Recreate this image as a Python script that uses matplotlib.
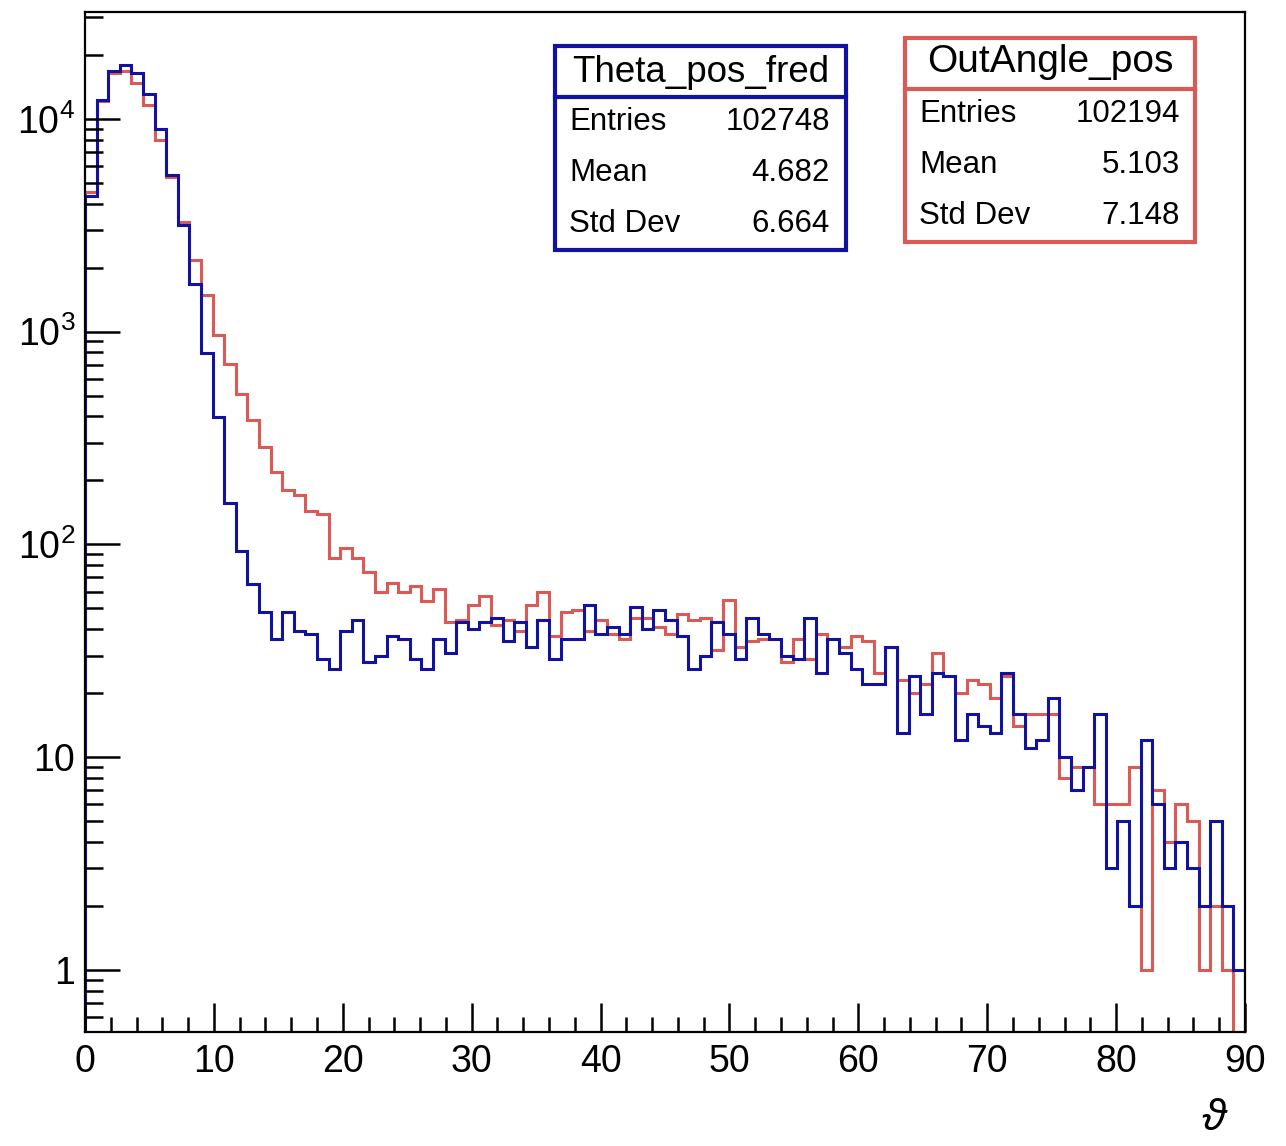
import numpy as np
import matplotlib
matplotlib.use("Agg")
import matplotlib.pyplot as plt
from matplotlib.patches import Rectangle
from matplotlib.lines import Line2D
from matplotlib.ticker import FixedLocator, FixedFormatter, LogLocator, NullFormatter, MultipleLocator

plt.rcParams['font.family'] = ['Liberation Sans', 'DejaVu Sans']
plt.rcParams['mathtext.fontset'] = 'custom'
plt.rcParams['mathtext.rm'] = 'Liberation Sans'
plt.rcParams['mathtext.it'] = 'Liberation Sans:italic'
plt.rcParams['mathtext.fallback'] = 'cm'

# ---------------- data ----------------
x_min, x_max, n_bins = 0.0, 90.0, 100

theta_pos_fred = [
    4360, 12280, 16870, 17950, 16400, 13100, 8980, 5450, 3175, 1670,
    792, 399, 157, 93, 65, 48, 36, 48, 39, 38,
    29, 26, 39, 44, 28, 30, 37, 36, 29, 26,
    36, 31, 43, 40, 43, 45, 35, 43, 33, 44,
    29, 36, 36, 52, 38, 41, 38, 51, 40, 49,
    44, 37, 26, 30, 43, 38, 29, 45, 38, 36,
    30, 29, 45, 25, 36, 31, 26, 22, 22, 33,
    13, 24, 16, 25, 24, 12, 16, 14, 13, 25,
    16, 11, 12, 19, 10, 7, 9, 16, 3, 5,
    2, 12, 6, 3, 4, 3, 2, 5, 2, 1,
]

out_angle_pos = [
    4550, 12200, 16400, 16870, 14720, 11640, 7960, 5320, 3270, 2170,
    1485, 960, 705, 510, 383, 286, 220, 180, 171, 144,
    139, 86, 96, 86, 74, 60, 66, 60, 64, 54,
    62, 43, 44, 52, 57, 42, 44, 39, 52, 60,
    37, 48, 49, 39, 44, 38, 36, 45, 45, 41,
    38, 47, 44, 45, 32, 55, 33, 35, 36, 36,
    28, 36, 29, 38, 36, 33, 37, 35, 25, 33,
    23, 20, 22, 31, 24, 20, 23, 22, 19, 24,
    14, 16, 16, 16, 8, 9, 9, 6, 6, 6,
    9, 1, 7, 4, 6, 5, 1, 2, 1, 0,
]

blue_stats = [("Entries", "102748"), ("Mean", "4.682"), ("Std Dev", "6.664")]
red_stats = [("Entries", "102194"), ("Mean", "5.103"), ("Std Dev", "7.148")]
blue_title = "Theta_pos_fred"
red_title = "OutAngle_pos"

y_major = [1, 10, 100, 1000, 10000]
y_major_labels = ["1", "10", r"$10^{2}$", r"$10^{3}$", r"$10^{4}$"]

BLUE = "#1212a0"
RED = "#db5a55"

# ---------------- figure ----------------
W, H = 1286, 1146
fig = plt.figure(figsize=(W / 100, H / 100), dpi=100)
fig.patch.set_facecolor("white")


def fx(px):
    return px / W


def fy(py):
    return 1 - py / H


ax = fig.add_axes([fx(85), fy(1032), (1245 - 85) / W, (1032 - 12) / H])

edges = np.linspace(x_min, x_max, n_bins + 1)
red_vals = np.asarray(out_angle_pos, dtype=float)
blue_vals = np.asarray(theta_pos_fred, dtype=float)
ax.stairs(np.where(red_vals > 0, red_vals, 1e-3), edges, color=RED, lw=2.2)
ax.stairs(np.where(blue_vals > 0, blue_vals, 1e-3), edges, color=BLUE, lw=2.2)

ax.set_yscale("log")
ax.set_xlim(x_min, x_max)
ax.set_ylim(0.511, 31800)

ax.xaxis.set_major_locator(MultipleLocator(10))
ax.xaxis.set_minor_locator(MultipleLocator(2))
ax.yaxis.set_major_locator(FixedLocator(y_major))
ax.yaxis.set_major_formatter(FixedFormatter(y_major_labels))
ax.yaxis.set_minor_locator(LogLocator(base=10, subs=np.arange(2, 10), numticks=20))
ax.yaxis.set_minor_formatter(NullFormatter())

ax.tick_params(axis="both", which="both", direction="in", top=False, right=False,
               width=1.8, colors="black")
ax.tick_params(axis="x", which="major", length=21, pad=9, labelsize=27)
ax.tick_params(axis="x", which="minor", length=11)
ax.tick_params(axis="y", which="major", length=25, pad=7, labelsize=27)
ax.tick_params(axis="y", which="minor", length=13)
for s in ax.spines.values():
    s.set_linewidth(1.6)

# axis title
fig.text(fx(1215), fy(1118), r"$\vartheta$", fontsize=32, ha="center", va="center")


# ---------------- stats boxes ----------------
def stats_box(x0, y0, x1, y1, ysep, title, rows, color, ytitle, yrows, xl, xr, tsize):
    fig.add_artist(Rectangle((fx(x0), fy(y1)), fx(x1) - fx(x0), fy(y0) - fy(y1),
                             transform=fig.transFigure, facecolor="white",
                             edgecolor=color, lw=3.0, zorder=5))
    fig.add_artist(Line2D([fx(x0), fx(x1)], [fy(ysep), fy(ysep)],
                          transform=fig.transFigure, color=color, lw=3.0, zorder=6))
    fig.text(fx((x0 + x1) / 2), fy(ytitle), title, fontsize=tsize,
             ha="center", va="center", zorder=7)
    for (lab, val), yy in zip(rows, yrows):
        fig.text(fx(xl), fy(yy), lab, fontsize=22.5, ha="left", va="center", zorder=7)
        fig.text(fx(xr), fy(yy), val, fontsize=22.5, ha="right", va="center", zorder=7)


stats_box(555, 46, 846, 250, 97, blue_title, blue_stats, BLUE, 72,
          [122, 173, 224], 569, 830, 26.5)
stats_box(905, 38, 1195, 242, 89, red_title, red_stats, RED, 62,
          [114, 165, 216], 919, 1180, 28)

fig.savefig("out.png", dpi=100, facecolor="white")
